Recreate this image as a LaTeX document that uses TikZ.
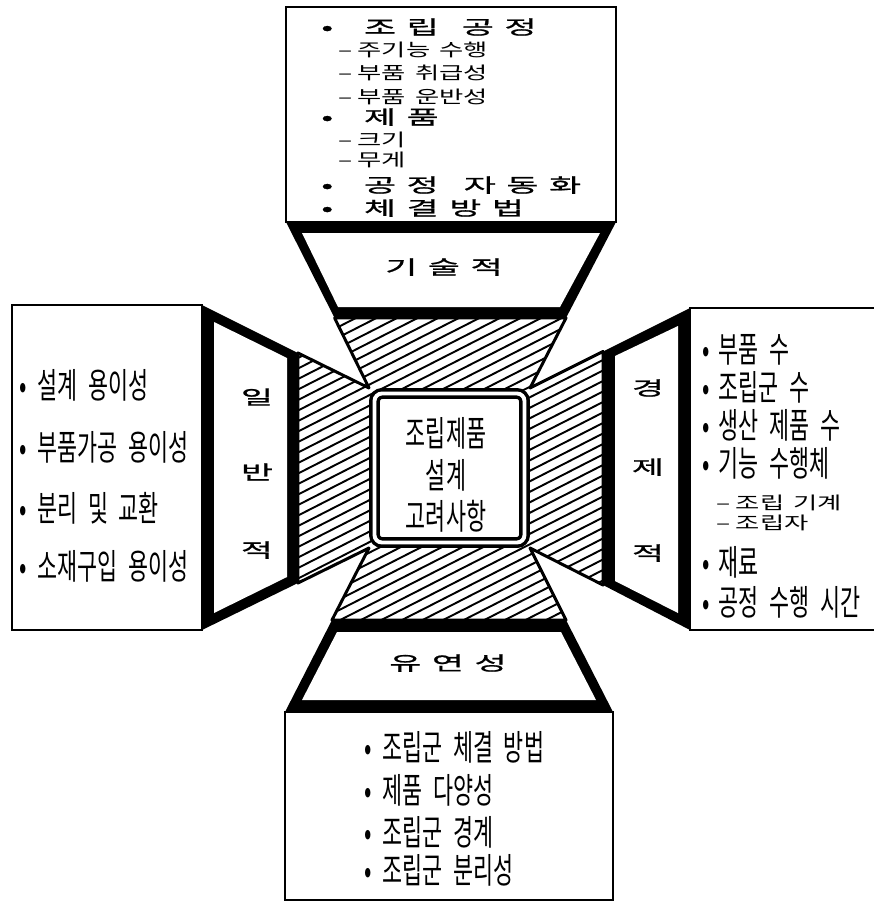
\documentclass[tikz,border=0pt]{standalone}
\usepackage{fontspec}
\newfontfamily\handfont[FakeStretch=0.62,WordSpace=2.2]{Noto Sans CJK KR}
\newfontfamily\subfont[FakeStretch=1.5,WordSpace=1.5]{Noto Sans CJK KR}
\newfontfamily\headfont[FakeStretch=1.8,LetterSpace=55,FakeBold=1.1]{Noto Sans CJK KR}
\begin{document}
\begin{tikzpicture}[
        x=0.02cm, y=-0.02cm,
        panel/.style={draw, line width=1.5pt, fill=white},
        band/.style={fill=black},
        facet/.style={fill=white},
        hatchline/.style={line width=1.1pt},
        rim/.style={line width=1.7pt, line join=round},
        item/.style={font=\handfont\fontsize{20}{22}\selectfont, anchor=west, inner sep=0pt},
        subitem/.style={font=\subfont\fontsize{10}{12}\selectfont, anchor=west, inner sep=0pt},
        headitem/.style={font=\headfont\fontsize{11}{13}\selectfont, anchor=west, inner sep=0pt},
        facetlabel/.style={font=\headfont\fontsize{11}{13}\selectfont, inner sep=0pt},
    ]
    \useasboundingbox (0,0) rectangle (874,903);

    % Outer boxes
    \draw[panel] (286,7) rectangle (616,222);
    \draw[panel] (12,305) rectangle (202,630);
    \draw[panel] (690,308) rectangle (880,630);
    \draw[panel] (285,712) rectangle (613,900);

    % Corners of the hatched funnel
    \coordinate (tl) at (334.6,318);
    \coordinate (tr) at (566,318);
    \coordinate (ctr) at (530,388);
    \coordinate (rt) at (603,351.5);
    \coordinate (rb) at (603,585);
    \coordinate (cbr) at (530,548);
    \coordinate (br) at (566,620);
    \coordinate (bl) at (332,620);
    \coordinate (cbl) at (369,548);
    \coordinate (lb) at (298,583);
    \coordinate (lt) at (298,353);
    \coordinate (ctl) at (369,388);

    % Hatching
    \begin{scope}
        \clip (tl) -- (tr) -- (ctr) -- (rt) -- (rb) -- (cbr) -- (br) -- (bl) -- (cbl) -- (lb) -- (lt) -- (ctl) -- cycle;
        \foreach \k in {0,...,46}
            \draw[hatchline] (250,330+10.5*\k) -- ++(400,-204);
    \end{scope}
    \draw[rim] (tl) -- (tr) -- (ctr) -- (rt) -- (rb) -- (cbr) -- (br) -- (bl) -- (cbl) -- (lb) -- (lt) -- (ctl) -- cycle;

    % Facets with thick rims
    \fill[band] (286,222) -- (616,222) -- (tr) -- (tl) -- cycle;
    \fill[facet] (302,233) -- (600,233) -- (560,307) -- (338,307) -- cycle;
    \fill[band] (202,305) -- (lt) -- (lb) -- (202,630) -- cycle;
    \fill[facet] (214,322) -- (287,358) -- (287,577) -- (214,613) -- cycle;
    \fill[band] (690,308) -- (rt) -- (rb) -- (690,630) -- cycle;
    \fill[facet] (678,326) -- (615,356) -- (615,581) -- (678,613) -- cycle;
    \fill[band] (285,712) -- (613,712) -- (br) -- (bl) -- cycle;
    \fill[facet] (302,700) -- (596,700) -- (561,632) -- (337,632) -- cycle;

    % Core box
    \draw[line width=2pt, double, double distance=2.2pt, fill=white, rounded corners=0.15cm] (374.5,393.5) rectangle (524.5,542.5);
    \node[font=\handfont\fontsize{20}{23.8}\selectfont, align=center, inner sep=0pt] (core) at (446,475) {조립제품\\설계\\고려사항};

    % Facet labels
    \node[facetlabel] (tech) at (444,267) {기술적};
    \node[facetlabel] (flex) at (448,663) {유연성};
    \foreach \y/\t [count=\i] in {397/일, 472/반, 550/적}
        \node[facetlabel] (gen\i) at (257,\y) {\t};
    \foreach \y/\t [count=\i] in {388/경, 467/제, 553/적}
        \node[facetlabel] (eco\i) at (648,\y) {\t};

    % Top box
    \foreach \y/\t [count=\i] in {27/조립\hspace{1.2em}공정, 117/제품, 185/공정\hspace{1.3em}자동화, 208/체결방법}
        \node[headitem] (techh\i) at (321,\y) {\textbullet\hspace{1.6em}\t};
    \foreach \y/\t [count=\i] in {50/주기능 수행, 73/부품 취급성, 97/부품 운반성, 140/크기, 160/무게}
        \node[subitem] (techs\i) at (338,\y) {–\hspace{3pt}\t};

    % Left box
    \foreach \y/\t [count=\i] in {385/설계 용이성, 447/부품가공 용이성, 508/분리 및 교환, 566/소재구입 용이성}
        \node[item] (genitem\i) at (19,\y) {\textbullet\hspace{6pt}\t};

    % Right box
    \foreach \y/\t [count=\i] in {350/부품 수, 387/조립군 수, 425/생산 제품 수, 463/기능 수행체, 562/재료, 602/공정 수행 시간}
        \node[item] (ecoitem\i) at (702,\y) {\textbullet\hspace{5pt}\t};
    \foreach \y/\t [count=\i] in {503/조립 기계, 523/조립자}
        \node[subitem] (ecosub\i) at (716,\y) {–\hspace{3pt}\t};

    % Bottom box
    \foreach \y/\t [count=\i] in {747/조립군 체결 방법, 790/제품 다양성, 832/조립군 경계, 870/조립군 분리성}
        \node[item] (flexitem\i) at (364,\y) {\textbullet\hspace{6pt}\t};

\end{tikzpicture}
\end{document}
